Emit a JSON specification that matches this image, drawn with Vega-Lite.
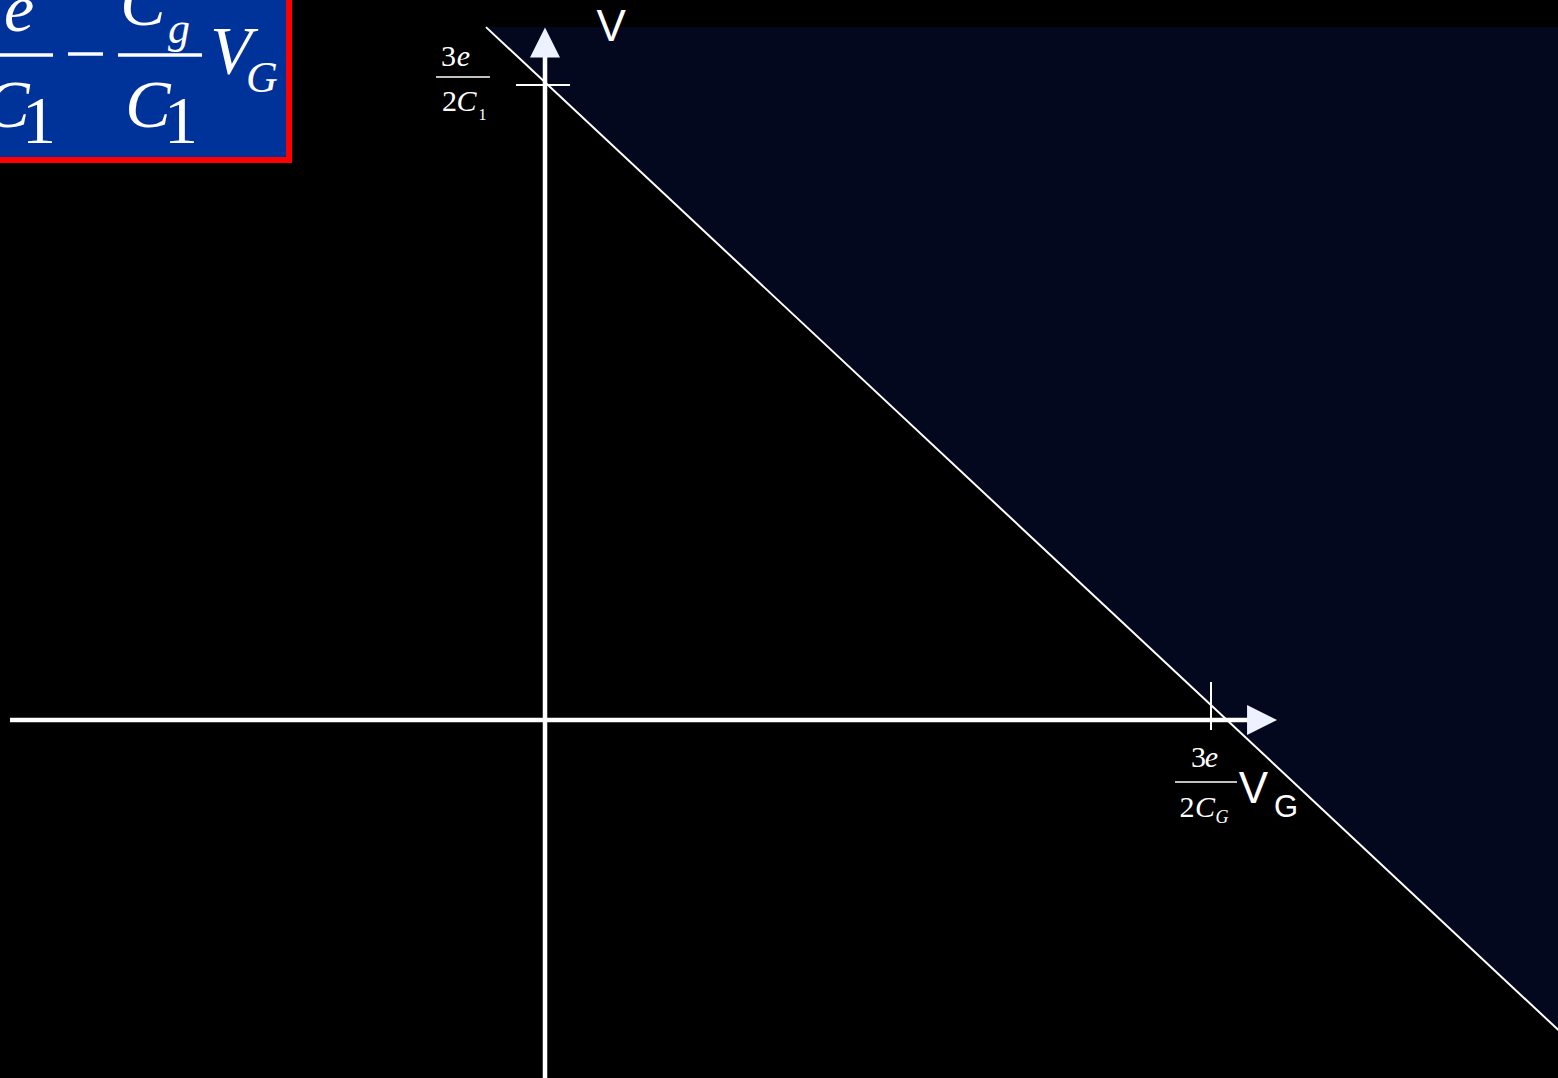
{
  "$schema": "https://vega.github.io/schema/vega-lite/v6.json",
  "width": 1558,
  "height": 1078,
  "autosize": {"type": "fit", "contains": "padding"},
  "padding": 0,
  "background": "#000000",
  "config": {"view": {"stroke": null}},
  "datasets": {
    "region": [
      {"x": -0.0885, "y": 1.086, "y2": 1.086},
      {"x": 1.55, "y": -0.516, "y2": 1.086}
    ],
    "boxRed": [{"x": -0.9, "x2": -0.3793, "y": 0.873, "y2": 1.2}],
    "boxBlue": [{"x": -0.9, "x2": -0.3883, "y": 0.8824, "y2": 1.2}],
    "axes": [
      {"x": -0.8021, "x2": 1.06, "y": 0, "y2": 0},
      {"x": 0, "x2": 0, "y": -0.6, "y2": 1.0423}
    ],
    "formulaBars": [
      {"x": -0.85, "x2": -0.7376, "y": 1.0423, "y2": 1.0423},
      {"x": -0.7151, "x2": -0.6627, "y": 1.0439, "y2": 1.0439},
      {"x": -0.6402, "x2": -0.5142, "y": 1.0423, "y2": 1.0423}
    ],
    "ticks": [
      {"x": -0.0435, "x2": 0.0375, "y": 0.9953, "y2": 0.9953},
      {"x": 0.9985, "x2": 0.9985, "y": 0.0596, "y2": -0.0157}
    ],
    "fracBars": [
      {"x": -0.1634, "x2": -0.0825, "y": 1.0078, "y2": 1.0078},
      {"x": 0.9445, "x2": 1.0375, "y": -0.0972, "y2": -0.0972}
    ],
    "diag": [{"x": -0.0885, "x2": 1.55, "y": 1.086, "y2": -0.516}],
    "arrowRight": [{"x": 1.075, "y": 0}],
    "arrowUp": [{"x": 0, "y": 1.0619}],
    "serifItalic68": [
      {"t": "e", "x": -0.7886, "y": 1.0799},
      {"t": "C", "x": -0.6027, "y": 1.0893},
      {"t": "C", "x": -0.8066, "y": 0.9295},
      {"t": "C", "x": -0.5952, "y": 0.9295},
      {"t": "V", "x": -0.4708, "y": 1.0141}
    ],
    "serifItalic44": [
      {"t": "g", "x": -0.5487, "y": 1.0611},
      {"t": "G", "x": -0.4243, "y": 0.9843}
    ],
    "serif68": [
      {"t": "1", "x": -0.7586, "y": 0.9044},
      {"t": "1", "x": -0.5457, "y": 0.9044}
    ],
    "serif30": [
      {"t": "3", "x": -0.1447, "y": 1.0251},
      {"t": "2", "x": -0.1432, "y": 0.9545},
      {"t": "3", "x": 0.9798, "y": -0.0737},
      {"t": "2", "x": 0.9625, "y": -0.152}
    ],
    "serifItalic30": [
      {"t": "e", "x": -0.1222, "y": 1.0251},
      {"t": "C", "x": -0.1177, "y": 0.9545},
      {"t": "e", "x": 0.9992, "y": -0.0737},
      {"t": "C", "x": 0.9895, "y": -0.152}
    ],
    "serif16": [{"t": "1", "x": -0.0937, "y": 0.9404}],
    "serifItalic18": [{"t": "G", "x": 1.0150, "y": -0.1614}],
    "sans44": [
      {"t": "V", "x": 0.099, "y": 1.0643},
      {"t": "V", "x": 1.0622, "y": -0.1301}
    ],
    "sans31": [{"t": "G", "x": 1.1109, "y": -0.152}]
  },
  "encoding": {
    "x": {"field": "x", "type": "quantitative", "scale": {"domain": [-0.8171, 1.5187], "nice": false, "zero": false}, "axis": null},
    "y": {"field": "y", "type": "quantitative", "scale": {"domain": [-0.5611, 1.1285], "nice": false, "zero": false}, "axis": null}
  },
  "layer": [
    {
      "data": {"name": "region"},
      "mark": {"type": "area", "color": "#03081f", "clip": true, "interpolate": "linear"},
      "encoding": {"y2": {"field": "y2"}}
    },
    {
      "data": {"name": "boxRed"},
      "mark": {"type": "rect", "color": "#ff0000", "clip": true},
      "encoding": {"x2": {"field": "x2"}, "y2": {"field": "y2"}}
    },
    {
      "data": {"name": "boxBlue"},
      "mark": {"type": "rect", "color": "#003399", "clip": true},
      "encoding": {"x2": {"field": "x2"}, "y2": {"field": "y2"}}
    },
    {
      "data": {"name": "diag"},
      "mark": {"type": "rule", "color": "#ffffff", "strokeWidth": 2, "clip": true},
      "encoding": {"x2": {"field": "x2"}, "y2": {"field": "y2"}}
    },
    {
      "data": {"name": "axes"},
      "mark": {"type": "rule", "color": "#ffffff", "strokeWidth": 4.5, "strokeCap": "butt", "clip": true},
      "encoding": {"x2": {"field": "x2"}, "y2": {"field": "y2"}}
    },
    {
      "data": {"name": "formulaBars"},
      "mark": {"type": "rule", "color": "#ffffff", "strokeWidth": 3.5, "strokeCap": "butt", "clip": true},
      "encoding": {"x2": {"field": "x2"}, "y2": {"field": "y2"}}
    },
    {
      "data": {"name": "ticks"},
      "mark": {"type": "rule", "color": "#ffffff", "strokeWidth": 2, "strokeCap": "butt"},
      "encoding": {"x2": {"field": "x2"}, "y2": {"field": "y2"}}
    },
    {
      "data": {"name": "fracBars"},
      "mark": {"type": "rule", "color": "#ffffff", "strokeWidth": 1.3, "strokeCap": "butt"},
      "encoding": {"x2": {"field": "x2"}, "y2": {"field": "y2"}}
    },
    {
      "data": {"name": "arrowRight"},
      "mark": {"type": "point", "shape": "M-1,-1L1,0L-1,1Z", "size": 900, "filled": true, "color": "#eef1ff", "opacity": 1, "strokeWidth": 0}
    },
    {
      "data": {"name": "arrowUp"},
      "mark": {"type": "point", "shape": "M-1,1L0,-1L1,1Z", "size": 900, "filled": true, "color": "#eef1ff", "opacity": 1, "strokeWidth": 0}
    },
    {
      "data": {"name": "serifItalic68"},
      "mark": {"type": "text", "font": "Liberation Serif", "fontStyle": "italic", "fontSize": 68, "color": "#ffffff", "align": "center", "baseline": "alphabetic", "clip": true},
      "encoding": {"text": {"field": "t"}}
    },
    {
      "data": {"name": "serifItalic44"},
      "mark": {"type": "text", "font": "Liberation Serif", "fontStyle": "italic", "fontSize": 44, "color": "#ffffff", "align": "center", "baseline": "alphabetic", "clip": true},
      "encoding": {"text": {"field": "t"}}
    },
    {
      "data": {"name": "serif68"},
      "mark": {"type": "text", "font": "Liberation Serif", "fontSize": 68, "color": "#ffffff", "align": "center", "baseline": "alphabetic", "clip": true},
      "encoding": {"text": {"field": "t"}}
    },
    {
      "data": {"name": "serif30"},
      "mark": {"type": "text", "font": "Liberation Serif", "fontSize": 30, "color": "#ffffff", "align": "center", "baseline": "alphabetic"},
      "encoding": {"text": {"field": "t"}}
    },
    {
      "data": {"name": "serifItalic30"},
      "mark": {"type": "text", "font": "Liberation Serif", "fontStyle": "italic", "fontSize": 30, "color": "#ffffff", "align": "center", "baseline": "alphabetic"},
      "encoding": {"text": {"field": "t"}}
    },
    {
      "data": {"name": "serif16"},
      "mark": {"type": "text", "font": "Liberation Serif", "fontSize": 16, "color": "#ffffff", "align": "center", "baseline": "alphabetic"},
      "encoding": {"text": {"field": "t"}}
    },
    {
      "data": {"name": "serifItalic18"},
      "mark": {"type": "text", "font": "Liberation Serif", "fontStyle": "italic", "fontSize": 18, "color": "#ffffff", "align": "center", "baseline": "alphabetic"},
      "encoding": {"text": {"field": "t"}}
    },
    {
      "data": {"name": "sans44"},
      "mark": {"type": "text", "font": "Liberation Sans", "fontSize": 44, "color": "#ffffff", "align": "center", "baseline": "alphabetic"},
      "encoding": {"text": {"field": "t"}}
    },
    {
      "data": {"name": "sans31"},
      "mark": {"type": "text", "font": "Liberation Sans", "fontSize": 31, "color": "#ffffff", "align": "center", "baseline": "alphabetic"},
      "encoding": {"text": {"field": "t"}}
    }
  ]
}
